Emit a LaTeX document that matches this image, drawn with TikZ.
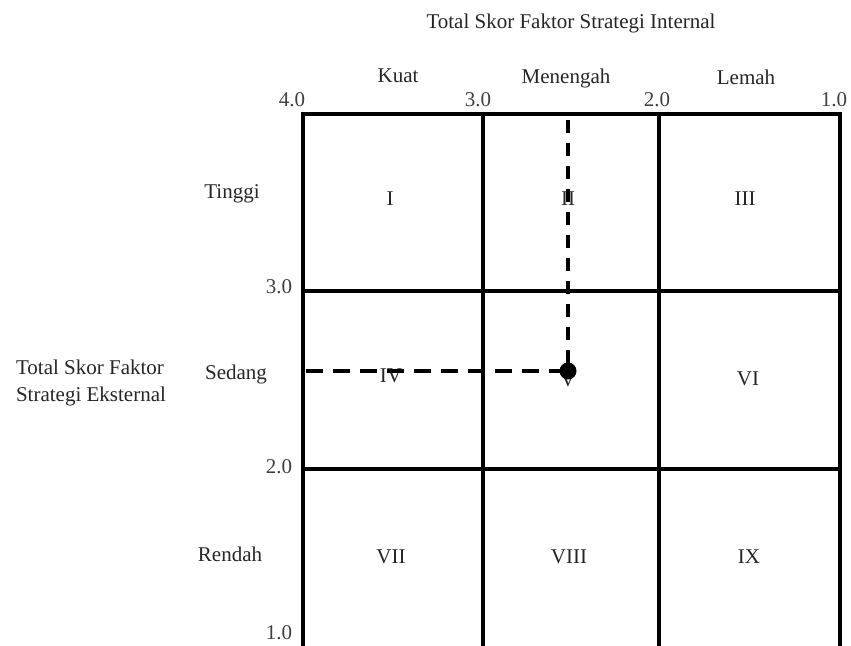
\documentclass[tikz,border=0pt]{standalone}
\usepackage{fontspec}
\setmainfont{Liberation Serif}
\begin{document}
\begin{tikzpicture}[x=1pt,y=-1pt,
  grid/.style={line width=3.4pt,line cap=rect},
  guideh/.style={line width=3.4pt,dash pattern=on 17pt off 10pt},
  guidev/.style={line width=3.4pt,dash pattern=on 13pt off 10pt},
  lbl/.style={font=\fontsize{21}{27}\selectfont,inner sep=0pt,text=black!85},
  num/.style={font=\fontsize{21}{27}\selectfont,inner sep=0pt,text=black!75}]
\useasboundingbox[fill=white] (0,0) rectangle (851,645);

% matrix frame and internal dividers
\draw[grid] (303,114) -- (840,114);
\draw[grid] (303,114) -- (303,650);
\draw[grid] (483,114) -- (483,650);
\draw[grid] (659,114) -- (659,650);
\draw[grid] (840,114) -- (840,650);
\draw[grid] (303,291) -- (840,291);
\draw[grid] (303,469) -- (840,469);

% axis titles
\node[lbl] (ifas) at (571,23) {Total Skor Faktor Strategi Internal};
\node[lbl,align=left] (efas) at (91,383) {Total Skor Faktor\\Strategi Eksternal};

% column headings and scale
\node[lbl] (kuat) at (398,76) {Kuat};
\node[lbl] (sedangx) at (566,78) {Menengah};
\node[lbl] (lemah) at (746,77) {Lemah};
\node[num] (x4) at (292,100) {4.0};
\node[num] (x3) at (478,100) {3.0};
\node[num] (x2) at (657,100) {2.0};
\node[num] (x1) at (834,100) {1.0};

% row headings and scale
\node[lbl] (tinggi) at (232,194) {Tinggi};
\node[lbl] (sedang) at (236,374) {Sedang};
\node[lbl] (rendah) at (230,554) {Rendah};
\node[num] (y3) at (279,287) {3.0};
\node[num] (y2) at (279,467) {2.0};
\node[num] (y1) at (279,633) {1.0};

% cell numbers
\node[lbl] (c1) at (390,199) {I};
\node[lbl] (c2) at (568,199) {II};
\node[lbl] (c3) at (745,199) {III};
\node[lbl] (c4) at (391,376) {IV};
\node[lbl] (c5) at (568,380) {V};
\node[lbl] (c6) at (748,379) {VI};
\node[lbl] (c7) at (391,557) {VII};
\node[lbl] (c8) at (569,557) {VIII};
\node[lbl] (c9) at (749,557) {IX};

% position of the company
\node[circle,fill=black,minimum size=17pt,inner sep=0pt] (pos) at (568,371) {};
\coordinate (topend) at (568,120);
\coordinate (leftend) at (306,371);
\draw[guidev] (topend) -- (pos.center);
\draw[guideh] (leftend) -- (pos.center);
\end{tikzpicture}
\end{document}
